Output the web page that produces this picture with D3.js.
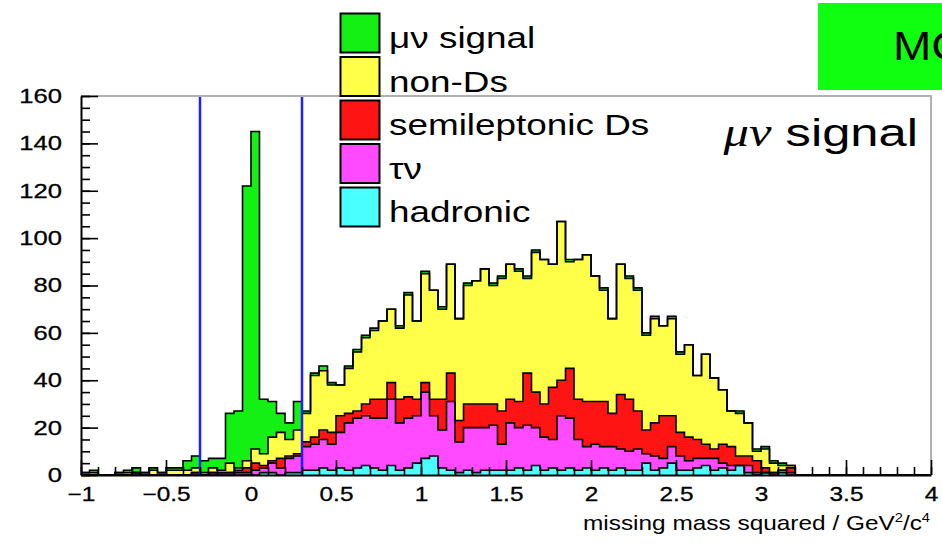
<!DOCTYPE html>
<html>
<head>
<meta charset="utf-8">
<script src="https://cdn.jsdelivr.net/npm/d3@7"></script>
<style>
  body { margin: 0; background: #fff; }
  svg { display: block; font-family: "Liberation Sans", Arial, sans-serif; }
</style>
</head>
<body>
<div id="chart"></div>
<script>
// histogram: 100 bins of 0.05 from -1 to 4, counts per component
const binStart = -1, binWidth = 0.05, nBins = 100;

const hadronic = [0,0,0,0,0,0,0,0,0,0, 0,0,0,0,0,0,0,0,0,0,
  0,1,1,0,1,1,2,2,3,2, 3,2,3,4,3,2,4,2,3,5,
  7,8,3,2,1,2,1,2,2,2, 2,3,2,4,2,3,2,3,2,3,
  2,3,2,3,2,2,5,2,3,5, 2,2,3,4,2,3,2,4,1,0,
  1,0,1,0,0,0,0,0,0,0, 0,0,0,0,0,0,0,0,0,0];
const tauNu = [0,0,0,0,0,0,1,0,0,0, 0,0,0,1,0,1,1,1,1,1,
  2,2,4,3,6,7,10,11,12,11, 15,20,21,21,21,22,28,20,21,20,
  28,17,16,29,13,18,19,18,19,11, 20,17,19,16,14,12,23,21,13,9,
  11,9,10,8,8,9,4,6,4,7, 6,4,4,3,5,2,2,0,3,1,
  0,1,1,1,0,0,0,0,0,0, 0,0,0,0,0,0,0,0,0,0];
const semilepDs = [0,0,0,0,0,0,0,0,0,0, 0,0,0,0,0,0,0,0,1,2,
  3,1,1,4,1,1,2,3,4,5, 7,4,3,5,8,8,7,10,9,7,
  4,7,13,12,9,10,10,10,9,14, 10,11,22,15,14,22,15,21,17,19,
  18,19,14,23,22,16,10,14,18,13, 10,10,8,6,4,8,8,4,4,5,
  2,0,0,2,0,0,0,0,0,0, 0,0,0,0,0,0,0,0,0,0];
const nonDs = [1,1,0,0,1,1,0,1,2,1, 2,2,2,2,1,2,1,4,1,3,
  6,5,10,11,7,10,12,26,25,20, 13,19,25,28,29,33,31,30,43,33,
  46,46,38,46,43,50,52,57,50,56, 57,55,40,59,61,52,67,45,59,62,
  53,47,40,55,51,51,40,44,38,41, 33,39,27,38,30,23,15,18,14,4,
  8,4,2,1,0,0,0,0,0,0, 0,0,0,0,0,0,0,0,0,0];
const muNuSignal = [0,1,0,0,0,1,2,0,1,0, 1,1,4,5,5,4,5,21,24,116,
  134,23,15,8,7,12,1,1,2,1, 0,1,1,1,1,0,0,1,1,0,
  1,0,1,0,0,1,0,0,1,1, 0,1,1,1,0,0,0,1,0,0,
  0,1,0,0,1,1,1,1,0,1, 1,0,0,0,0,0,0,1,0,1,
  1,1,1,0,0,0,0,0,0,0, 0,0,0,0,0,0,0,0,0,0];

const keys = ["hadronic", "tauNu", "semilepDs", "nonDs", "muNuSignal"];
const colors = {
  hadronic: "#4affff", tauNu: "#ff4aff", semilepDs: "#ff1414",
  nonDs: "#ffff4a", muNuSignal: "#14f014"
};
const legendOrder = ["muNuSignal", "nonDs", "semilepDs", "tauNu", "hadronic"];
const legendLabels = {
  muNuSignal: "\u03bc\u03bd signal", nonDs: "non-Ds", semilepDs: "semileptonic Ds",
  tauNu: "\u03c4\u03bd", hadronic: "hadronic"
};
const cutLines = [-0.3, 0.3];
const xMajor = [-1, -0.5, 0, 0.5, 1, 1.5, 2, 2.5, 3, 3.5, 4];
const yMajor = [0, 20, 40, 60, 80, 100, 120, 140, 160];

const W = 942, H = 543;
const frame = {left: 81, right: 931, top: 96, bottom: 475};
const sx = 1.22; // reference text is stretched sideways

const svg = d3.select("#chart").append("svg")
  .attr("width", W).attr("height", H);

const x = d3.scaleLinear().domain([-1, 4]).range([frame.left, frame.right]);
const y = d3.scaleLinear().domain([0, 160]).range([frame.bottom, frame.top]);

const table = d3.range(nBins).map(i => ({
  hadronic: hadronic[i], tauNu: tauNu[i], semilepDs: semilepDs[i],
  nonDs: nonDs[i], muNuSignal: muNuSignal[i]
}));
const stacked = d3.stack().keys(keys)(table);

function stepPoints(series) {
  return series.flatMap((d, i) => [
    {x: binStart + i * binWidth, d: d},
    {x: binStart + (i + 1) * binWidth, d: d}
  ]);
}

const area = d3.area()
  .x(p => x(p.x)).y0(p => y(p.d[0])).y1(p => y(p.d[1]));
const outline = d3.line()
  .x(p => x(p.x)).y(p => y(p.d[1]));

const plot = svg.append("g");

plot.selectAll("path.fill")
  .data(stacked)
  .enter().append("path")
  .attr("class", "fill")
  .attr("d", s => area(stepPoints(s)))
  .attr("fill", s => colors[s.key])
  .attr("stroke", s => colors[s.key])
  .attr("stroke-width", 0.6);

plot.selectAll("path.edge")
  .data(stacked)
  .enter().append("path")
  .attr("class", "edge")
  .attr("d", s => outline(stepPoints(s)))
  .attr("fill", "none")
  .attr("stroke", "#000")
  .attr("stroke-width", 1.6);

// signal window
plot.selectAll("line.cut")
  .data(cutLines)
  .enter().append("line")
  .attr("x1", d => x(d)).attr("x2", d => x(d))
  .attr("y1", y(0)).attr("y2", y(160))
  .attr("stroke", "#1f1fff")
  .attr("stroke-width", 2.5);

// frame
svg.append("line").attr("x1", frame.left).attr("x2", frame.right + 1)
  .attr("y1", frame.top).attr("y2", frame.top)
  .attr("stroke", "#b0b0b0").attr("stroke-width", 2);
svg.append("line").attr("x1", frame.right).attr("x2", frame.right)
  .attr("y1", frame.top).attr("y2", frame.bottom)
  .attr("stroke", "#b0b0b0").attr("stroke-width", 2);

// x axis
const xMinor = svg.append("g")
  .attr("transform", "translate(0," + frame.bottom + ")")
  .call(d3.axisBottom(x).ticks(50).tickSize(-8).tickSizeOuter(0).tickFormat(""));
xMinor.select(".domain").remove();

const xAxis = svg.append("g")
  .attr("transform", "translate(0," + frame.bottom + ")")
  .call(d3.axisBottom(x).tickValues(xMajor).tickSize(-15).tickSizeOuter(0)
    .tickPadding(12).tickFormat(d3.format("~g")));
xAxis.selectAll("text")
  .attr("font-size", 20)
  .attr("font-family", "'Liberation Sans', Arial, sans-serif")
  .attr("fill", "#000")
  .attr("stroke", "#000").attr("stroke-width", 0.3)
  .attr("transform", "scale(" + sx + ",1)");

// y axis
const yMinor = svg.append("g")
  .attr("transform", "translate(" + frame.left + ",0)")
  .call(d3.axisLeft(y).ticks(32).tickSize(-9).tickSizeOuter(0).tickFormat(""));
yMinor.select(".domain").remove();

const yAxis = svg.append("g")
  .attr("transform", "translate(" + frame.left + ",0)")
  .call(d3.axisLeft(y).tickValues(yMajor).tickSize(-17).tickSizeOuter(0).tickPadding(0));
yAxis.selectAll("text")
  .attr("x", 0)
  .attr("font-size", 20)
  .attr("font-family", "'Liberation Sans', Arial, sans-serif")
  .attr("fill", "#000")
  .attr("stroke", "#000").attr("stroke-width", 0.3)
  .attr("transform", "translate(-19,0) scale(1.28,1)");

svg.selectAll(".tick line").attr("stroke", "#000").attr("stroke-width", 1.6);
svg.selectAll(".domain").attr("stroke", "#000").attr("stroke-width", 2);

// axis title
const xt = svg.append("text")
  .attr("transform", "translate(" + (frame.right - 1) + ",530) scale(1.22,1)")
  .attr("text-anchor", "end")
  .attr("font-size", 20)
  .attr("fill", "#000");
xt.append("tspan").text("missing mass squared / GeV");
xt.append("tspan").attr("font-size", 12).attr("dy", -8).text("2");
xt.append("tspan").attr("dy", 8).text("/c");
xt.append("tspan").attr("font-size", 12).attr("dy", -8).text("4");

// legend
const legend = svg.append("g").attr("transform", "translate(340,13)");
const rows = legend.selectAll("g")
  .data(legendOrder)
  .enter().append("g")
  .attr("transform", (d, i) => "translate(0," + (i * 43.5) + ")");
rows.append("rect")
  .attr("x", 0.5).attr("y", 0.5).attr("width", 39).attr("height", 39)
  .attr("fill", d => colors[d])
  .attr("stroke", "#000").attr("stroke-width", 2);
rows.append("text")
  .attr("transform", "translate(49,35) scale(1.23,1)")
  .attr("font-size", 30)
  .attr("fill", "#000")
  .text(d => legendLabels[d]);

// in-plot label
const lab = svg.append("text")
  .attr("transform", "translate(918,146) scale(1.3,1)")
  .attr("text-anchor", "end")
  .attr("font-size", 39)
  .attr("fill", "#000");
lab.append("tspan").attr("font-family", "'Liberation Serif', serif")
  .attr("font-style", "italic").text("\u03bc\u03bd");
lab.append("tspan").text(" signal");

// MC tag (cut at the right edge, as in the original)
svg.append("rect").attr("x", 818).attr("y", 3).attr("width", 130).attr("height", 87)
  .attr("fill", "#10ff10");
svg.append("text")
  .attr("transform", "translate(893,60) scale(1.15,1)")
  .attr("font-size", 40)
  .attr("fill", "#000")
  .text("MC");
</script>
</body>
</html>
